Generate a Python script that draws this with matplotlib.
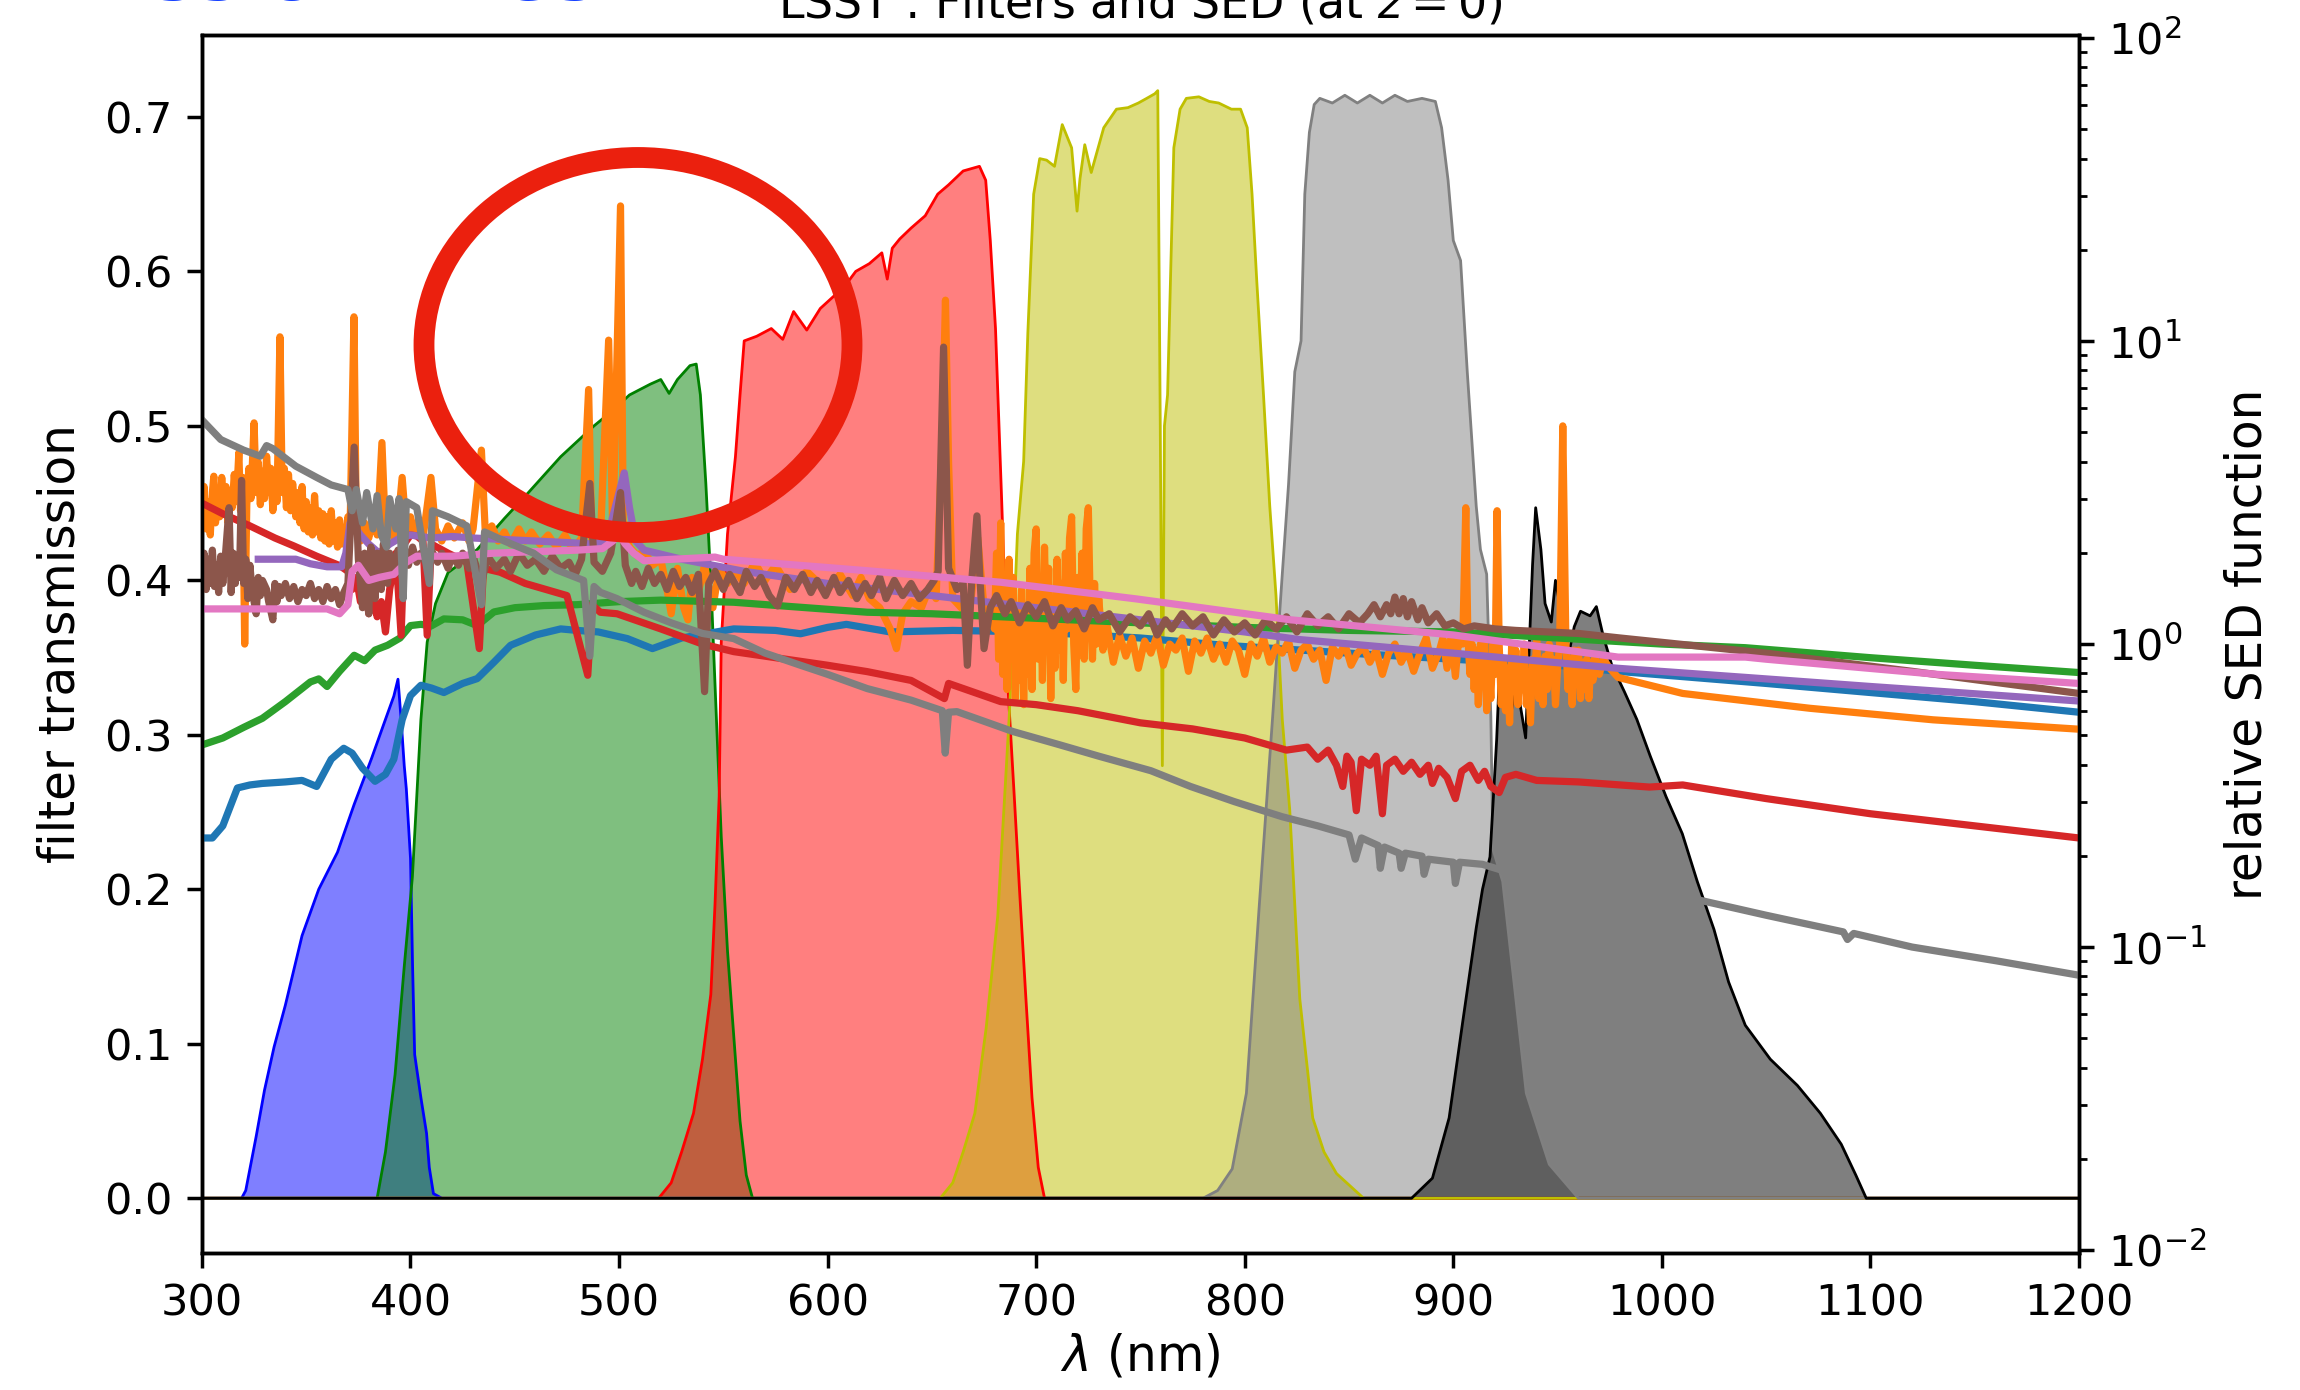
import numpy as np
import matplotlib
matplotlib.use('Agg')
import matplotlib.pyplot as plt
from matplotlib.patches import Ellipse

# LSST filter transmission curves (wavelength nm, transmission)
u_wl = [300, 319, 321, 326, 330, 334.6, 340, 348, 356, 365, 373, 381.4, 388, 392, 394, 395.5, 397, 398, 400, 401, 402, 405, 407.7, 409, 411, 415, 1200]
u_tr = [0, 0, 0.005, 0.04, 0.07, 0.098, 0.125, 0.17, 0.2, 0.224, 0.255, 0.285, 0.31, 0.325, 0.336, 0.31, 0.28, 0.265, 0.22, 0.15, 0.093, 0.065, 0.042, 0.02, 0.003, 0, 0]

g_wl = [300, 384, 388, 392.6, 397, 400.9, 403, 405, 408, 412, 418, 425, 432, 445, 456, 472, 488, 497, 505, 515, 520, 524, 528, 534, 537, 539, 541.6, 544, 546, 549, 552, 555, 558, 561, 564, 1200]
g_tr = [0, 0, 0.03, 0.08, 0.15, 0.208, 0.26, 0.31, 0.36, 0.385, 0.405, 0.412, 0.42, 0.44, 0.456, 0.48, 0.5, 0.51, 0.52, 0.527, 0.53, 0.521, 0.53, 0.539, 0.54, 0.52, 0.463, 0.4, 0.333, 0.234, 0.16, 0.105, 0.05, 0.015, 0, 0]

r_wl = [300, 519, 525, 530, 535.7, 540, 544, 546, 548, 549, 552, 555.8, 558, 560, 566, 573, 578.5, 583.7, 590, 596.5, 603, 608, 613.5, 620, 626, 628.6, 631, 634.6, 640, 646.8, 652.8, 658, 665, 672.8, 675.8, 678, 680.5, 683.5, 686.5, 689.5, 692, 695, 698, 701, 704, 1200]
r_tr = [0, 0, 0.01, 0.03, 0.055, 0.09, 0.132, 0.19, 0.26, 0.36, 0.43, 0.48, 0.52, 0.555, 0.558, 0.563, 0.556, 0.574, 0.562, 0.576, 0.584, 0.59, 0.6, 0.605, 0.612, 0.595, 0.615, 0.621, 0.628, 0.636, 0.65, 0.656, 0.665, 0.668, 0.659, 0.62, 0.563, 0.45, 0.33, 0.26, 0.2, 0.131, 0.065, 0.02, 0, 0]

i_wl = [300, 654, 660, 665, 670.6, 676, 681.6, 687, 689.7, 691, 694, 696, 698.8, 701.7, 705, 708.8, 712.5, 717, 719.6, 721, 723.3, 726.4, 732.4, 738.5, 744, 749, 753, 756.9, 758.3, 759.5, 760.5, 761.5, 763, 766, 769, 772, 778, 783, 787.5, 793.6, 798, 801.2, 803.5, 805.8, 809, 812, 815, 818, 821.6, 826.4, 832.6, 838, 844, 857, 1200]
i_tr = [0, 0, 0.01, 0.03, 0.055, 0.11, 0.183, 0.31, 0.387, 0.43, 0.477, 0.56, 0.65, 0.673, 0.672, 0.668, 0.695, 0.68, 0.639, 0.66, 0.682, 0.664, 0.693, 0.705, 0.706, 0.709, 0.712, 0.715, 0.717, 0.5, 0.28, 0.5, 0.52, 0.68, 0.705, 0.712, 0.713, 0.71, 0.709, 0.705, 0.705, 0.693, 0.65, 0.593, 0.52, 0.448, 0.39, 0.31, 0.251, 0.129, 0.052, 0.03, 0.016, 0, 0]

z_wl = [300, 780, 787, 794, 800.8, 807, 813.4, 818, 821, 822.5, 824, 827, 828.8, 831, 833.3, 836, 842, 848, 854, 860, 866, 872, 878, 885, 891.4, 894.4, 897.5, 900, 903.5, 906.7, 911, 913, 916, 918, 919, 923.7, 930, 935, 946, 960, 1200]
z_tr = [0, 0, 0.005, 0.019, 0.068, 0.19, 0.312, 0.404, 0.462, 0.498, 0.535, 0.555, 0.65, 0.69, 0.708, 0.712, 0.709, 0.714, 0.709, 0.714, 0.709, 0.714, 0.71, 0.712, 0.71, 0.693, 0.659, 0.62, 0.607, 0.535, 0.448, 0.42, 0.404, 0.312, 0.226, 0.205, 0.129, 0.068, 0.022, 0, 0]

y_wl = [300, 880, 890, 898, 904.5, 911, 914, 917.6, 920.8, 922.2, 924, 927, 930, 932, 934.7, 936.5, 938, 939.5, 942, 944, 947, 949, 951.6, 954.7, 958, 961, 965.6, 968.6, 971.7, 976, 982, 988, 994.5, 1002, 1009.8, 1017, 1025, 1032, 1040, 1052, 1065, 1076, 1086, 1093, 1098, 1200]
y_tr = [0, 0, 0.013, 0.052, 0.114, 0.175, 0.2, 0.221, 0.297, 0.343, 0.335, 0.31, 0.33, 0.32, 0.298, 0.36, 0.41, 0.447, 0.42, 0.385, 0.373, 0.4, 0.38, 0.348, 0.37, 0.38, 0.377, 0.383, 0.365, 0.345, 0.328, 0.31, 0.286, 0.26, 0.236, 0.205, 0.174, 0.14, 0.112, 0.09, 0.073, 0.055, 0.035, 0.015, 0, 0]

filter_colors = ['b', 'g', 'r', 'y', 'grey', 'k']

# SEDs, log10 of relative flux
sed0_wl = [300, 305, 310, 317, 323, 329, 340, 348, 355, 362, 368, 372, 377, 383, 388, 392, 396, 400, 405, 410, 416, 425, 432, 440, 448, 460, 472, 480, 490, 504, 516, 530, 555, 575, 587, 600, 609, 630, 660, 700, 750, 790, 850, 900, 950, 979, 1050, 1100, 1150, 1200]
sed0_log = [-0.64, -0.64, -0.6, -0.475, -0.465, -0.46, -0.455, -0.45, -0.47, -0.38, -0.344, -0.36, -0.41, -0.453, -0.43, -0.38, -0.25, -0.17, -0.136, -0.145, -0.16, -0.13, -0.114, -0.06, -0.004, 0.03, 0.05, 0.045, 0.04, 0.018, -0.015, 0.02, 0.05, 0.045, 0.034, 0.055, 0.065, 0.04, 0.045, 0.04, 0.02, -0.004, -0.03, -0.05, -0.07, -0.09, -0.13, -0.16, -0.19, -0.225]

# emission-line galaxy (orange): (wavelength, log flux) pairs
sed1_pts = [
    (300, 0.4), (301, 0.52), (302, 0.38), (303, 0.47), (304, 0.36), (305, 0.5), (305.7, 0.554), (306.5, 0.4),
    (307.5, 0.5), (308.5, 0.42), (309.5, 0.55), (310.5, 0.44), (311.5, 0.52), (312.5, 0.4), (313.5, 0.5),
    (314.5, 0.45), (315.5, 0.56), (316.5, 0.47), (317.7, 0.632), (318.5, 0.44), (319.5, 0.55), (320.5, 0.0),
    (321.5, 0.46), (322.5, 0.58), (323.5, 0.48), (325, 0.73), (326, 0.5), (327, 0.6), (328, 0.46), (329, 0.57),
    (330, 0.48), (331, 0.62), (332, 0.5), (333, 0.58), (334, 0.44), (335, 0.55), (336, 0.47), (337.4, 1.014),
    (338.5, 0.5), (339.5, 0.58), (340.5, 0.45), (341.5, 0.56), (342.5, 0.44), (343.5, 0.53), (345, 0.42),
    (346, 0.5), (347, 0.4), (348, 0.52), (349, 0.38), (350, 0.47), (351, 0.37), (352, 0.45), (353, 0.36),
    (354, 0.49), (355, 0.37), (356, 0.44), (357, 0.35), (358, 0.43), (359, 0.34), (360, 0.42), (361, 0.33),
    (362, 0.44), (363, 0.34), (364, 0.4), (365, 0.32), (366, 0.41), (367, 0.33), (368, 0.38), (369, 0.35),
    (370, 0.42), (371, 0.37), (372.9, 1.08), (374, 0.4), (376, 0.34), (378, 0.4), (380, 0.35), (382, 0.42),
    (384, 0.36), (386.3, 0.665), (388, 0.37), (390, 0.41), (392, 0.35), (394, 0.4), (396, 0.55), (398, 0.37),
    (400, 0.42), (402, 0.36), (404, 0.41), (406, 0.35), (409.8, 0.55), (412, 0.38), (415, 0.34), (418, 0.39),
    (421, 0.35), (425, 0.4), (428, 0.34), (430, 0.38), (434, 0.64), (436, 0.35), (439, 0.39), (442, 0.34),
    (445, 0.37), (448, 0.33), (452, 0.38), (455, 0.34), (458, 0.37), (462, 0.33), (466, 0.36), (470, 0.32),
    (474, 0.36), (478, 0.31), (482, 0.35), (485.4, 0.84), (487, 0.33), (491, 0.34), (495, 1.003), (497, 0.36),
    (500.7, 1.446), (502, 0.4), (505, 0.32), (509, 0.29), (512, 0.31), (516, 0.26), (520, 0.28), (523, 0.18),
    (525, 0.1), (528, 0.25), (531, 0.12), (533, 0.08), (535, 0.22), (537, 0.14), (541, 0.26), (545, 0.12),
    (548, 0.25), (552, 0.2), (556, 0.24), (560, 0.2), (565, 0.27), (570, 0.21), (575, 0.26), (582, 0.18),
    (590, 0.24), (596, 0.2), (600, 0.18), (606, 0.23), (612, 0.16), (616, 0.22), (620, 0.15), (625, 0.12),
    (630, 0.05), (633, -0.015), (636, 0.1), (640, 0.14), (645, 0.12), (649, 0.19), (652, 0.15), (655, 0.7),
    (656.5, 1.135), (658, 0.6), (660, 0.15), (664, 0.12), (668, 0.1), (672, 0.35), (675, 0.12), (678, 0.08),
    (680, 0.05), (681, 0.3), (682, -0.05), (683, 0.4), (684, -0.1), (685, 0.2), (686, -0.15), (687, 0.28),
    (688, -0.05), (689, 0.22), (690, -0.18), (691, 0.1), (692, -0.12), (693, 0.18), (694, -0.2), (695, 0.12),
    (696, -0.1), (697, 0.25), (698, -0.15), (699, 0.3), (700, 0.38), (701, -0.05), (702, 0.2), (703, -0.12),
    (704, 0.32), (705, 0.0), (706, 0.25), (707, -0.18), (708, 0.15), (709, -0.08), (710, 0.28), (711, -0.02),
    (712, 0.2), (713, -0.12), (714, 0.3), (715, 0.05), (716, 0.35), (717, 0.42), (718, 0.0), (719, -0.15),
    (720, 0.22), (721, 0.05), (722, 0.3), (723, -0.05), (724, 0.38), (725, 0.45), (726, 0.1), (727, -0.05),
    (728, 0.2), (729, 0.0), (730, 0.15), (732, -0.02), (734, 0.06), (737, -0.06), (740, 0.03), (743, -0.04),
    (746, 0.02), (749, -0.08), (752, 0.01), (755, -0.03), (758, 0.03), (761, -0.07), (764, 0.0), (767, -0.02),
    (770, 0.02), (773, -0.09), (776, 0.01), (779, -0.03), (782, 0.02), (785, -0.05), (788, 0.0), (791, -0.06),
    (794, 0.01), (797, -0.02), (800, -0.1), (803, 0.0), (806, -0.04), (809, 0.02), (812, -0.06), (815, -0.01),
    (818, -0.03), (821, 0.01), (824, -0.08), (827, -0.02), (830, 0.0), (833, -0.05), (836, -0.02), (839, -0.12),
    (842, -0.01), (845, -0.04), (848, 0.0), (851, -0.07), (854, -0.03), (857, -0.01), (860, -0.06), (863, -0.02),
    (866, -0.1), (869, -0.03), (872, 0.0), (875, -0.06), (878, -0.02), (881, -0.09), (884, -0.03), (887, 0.02),
    (890, -0.08), (893, -0.03), (895, 0.02), (897, -0.08), (899, 0.03), (901, -0.107), (903, 0.05), (904.5, 0.0),
    (906, 0.45), (907, 0.02), (908, -0.1), (909, 0.0), (910, -0.15), (911, -0.02), (912, -0.2), (913, 0.0),
    (914, -0.12), (915, 0.02), (916, -0.22), (917, -0.05), (918, -0.18), (919, 0.0), (920, -0.1), (921, 0.44),
    (922, 0.0), (923, -0.2), (924, -0.05), (925, -0.22), (926, -0.08), (927, -0.26), (928, 0.0), (929, -0.15),
    (930, -0.02), (931, -0.2), (932, -0.08), (933, -0.15), (934, 0.0), (935, -0.2), (936, -0.1), (937, -0.26),
    (938, -0.05), (939, -0.12), (940, 0.02), (941, -0.18), (942, -0.06), (943, -0.2), (944, -0.04), (945, -0.15),
    (946, 0.0), (947, -0.12), (948, -0.05), (949, -0.2), (950, -0.08), (951, 0.0), (952.5, 0.72), (954, 0.0),
    (955, -0.15), (956, -0.05), (957, -0.2), (958, -0.02), (959, -0.12), (960, -0.02), (961, -0.18), (962, -0.06),
    (963, -0.15), (964, -0.05), (965, -0.18), (966, -0.06), (967, -0.12), (968, -0.04), (970, -0.1), (972, -0.05),
    (975, -0.08), (979, -0.11), (1010, -0.163), (1071, -0.212), (1130, -0.25), (1200, -0.281),
]

sed2_wl = [300, 310, 320, 329, 340, 352, 356, 360, 366, 373, 378, 383, 389, 395, 400, 405, 410, 416, 425, 432, 440, 450, 464, 480, 500, 520, 555, 580, 619, 650, 700, 750, 800, 850, 900, 950, 1000, 1040, 1100, 1150, 1200]
sed2_log = [-0.333, -0.31, -0.275, -0.245, -0.19, -0.125, -0.115, -0.14, -0.09, -0.037, -0.055, -0.02, -0.004, 0.02, 0.061, 0.065, 0.06, 0.083, 0.08, 0.061, 0.106, 0.12, 0.127, 0.13, 0.14, 0.145, 0.138, 0.125, 0.105, 0.1, 0.085, 0.07, 0.055, 0.045, 0.04, 0.02, 0.0, -0.012, -0.045, -0.07, -0.094]

sed3_wl = [300, 310, 323, 335, 344, 355, 366, 370, 372, 374, 376, 378, 380, 382, 384, 386, 388, 390, 393, 395.5, 397, 400, 403, 406, 408, 410, 418, 427, 433, 435, 443, 455, 465, 475, 485, 487, 491, 499, 520, 540, 555, 580, 600, 619, 640, 656, 658, 683, 700, 720, 750, 775, 800, 820, 830, 835, 840, 844, 847, 849, 851, 853.5, 856, 860, 863, 866, 868, 872, 876, 880, 884, 888, 890, 893, 897, 901, 904, 908, 912, 915, 918, 922, 925, 930, 940, 960, 980, 994, 1010, 1050, 1100, 1150, 1200]
sed3_log = [0.465, 0.43, 0.39, 0.35, 0.324, 0.29, 0.259, 0.24, 0.18, 0.22, 0.14, 0.2, 0.1, 0.16, 0.09, 0.14, 0.04, 0.18, 0.3, 0.029, 0.33, 0.36, 0.357, 0.34, 0.029, 0.33, 0.3, 0.27, -0.015, 0.25, 0.237, 0.2, 0.18, 0.16, -0.103, 0.13, 0.105, 0.1, 0.05, 0.0, -0.025, -0.05, -0.07, -0.091, -0.12, -0.18, -0.13, -0.19, -0.2, -0.22, -0.26, -0.28, -0.31, -0.35, -0.34, -0.38, -0.35, -0.4, -0.47, -0.37, -0.39, -0.55, -0.38, -0.4, -0.37, -0.56, -0.4, -0.38, -0.42, -0.39, -0.43, -0.4, -0.46, -0.41, -0.44, -0.51, -0.42, -0.4, -0.45, -0.42, -0.47, -0.49, -0.44, -0.43, -0.45, -0.455, -0.465, -0.472, -0.465, -0.51, -0.56, -0.6, -0.64]

sed4_wl = [327, 345, 352, 360, 367, 369, 371, 373, 376, 380, 385, 390, 395, 400, 410, 420, 430, 445, 460, 475, 488, 494, 497, 500, 502.5, 505, 508, 512, 530, 560, 600, 650, 700, 750, 800, 826, 900, 979, 1040, 1100, 1200]
sed4_log = [0.28, 0.28, 0.265, 0.255, 0.255, 0.3, 0.4, 0.39, 0.36, 0.33, 0.3, 0.33, 0.35, 0.36, 0.35, 0.355, 0.35, 0.345, 0.34, 0.335, 0.33, 0.345, 0.42, 0.5, 0.565, 0.45, 0.34, 0.31, 0.28, 0.24, 0.2, 0.16, 0.12, 0.08, 0.04, 0.015, -0.03, -0.08, -0.11, -0.14, -0.188]

# brown galaxy: (wavelength, log flux) pairs
sed5_pts = [
    (300, 0.22), (301, 0.3), (302, 0.18), (303, 0.28), (304, 0.2), (305, 0.31), (306, 0.19), (307, 0.26),
    (308, 0.17), (309, 0.29), (310, 0.2), (311, 0.27), (313, 0.45), (314, 0.17), (315, 0.3), (316, 0.2),
    (317, 0.28), (318, 0.22), (319, 0.54), (320, 0.2), (321, 0.28), (322, 0.15), (323, 0.26), (324, 0.18),
    (326, 0.1), (327, 0.22), (328, 0.16), (329, 0.21), (331, 0.18), (332, 0.14), (334, 0.08), (335, 0.2),
    (336, 0.14), (337, 0.19), (338, 0.16), (340, 0.2), (342, 0.15), (344, 0.19), (346, 0.14), (348, 0.18),
    (350, 0.16), (352, 0.2), (354, 0.15), (356, 0.18), (358, 0.14), (360, 0.19), (362, 0.15), (364, 0.18),
    (366, 0.13), (368, 0.17), (370, 0.2), (373, 0.65), (375, 0.28), (377, 0.12), (378, 0.3), (380, 0.1),
    (381, 0.32), (383, 0.15), (384, 0.3), (386, 0.18), (387, 0.33), (389, 0.2), (390, 0.3), (392, 0.24),
    (394, 0.31), (396, 0.22), (397, 0.32), (399, 0.26), (401, 0.32), (403, 0.27), (405, 0.3), (408, 0.26),
    (410, 0.31), (413, 0.27), (415, 0.3), (418, 0.25), (420, 0.29), (423, 0.26), (425, 0.3), (428, 0.25),
    (430, 0.29), (434, 0.2), (437, 0.29), (441, 0.25), (445, 0.28), (448, 0.24), (452, 0.3), (456, 0.26),
    (460, 0.28), (464, 0.24), (468, 0.29), (472, 0.25), (476, 0.27), (479, 0.23), (482, 0.28), (486, 0.53),
    (488, 0.27), (492, 0.24), (496, 0.3), (500.7, 0.5), (503, 0.26), (506, 0.2), (508, 0.24), (511, 0.19),
    (514, 0.25), (517, 0.2), (520, 0.23), (523, 0.18), (526, 0.24), (529, 0.19), (532, 0.22), (535, 0.17),
    (538, 0.23), (541, -0.157), (543, 0.2), (546, 0.24), (550, 0.18), (553, 0.23), (558, 0.17), (561, 0.24),
    (565, 0.19), (568, 0.22), (572, 0.16), (576, 0.126), (580, 0.22), (584, 0.18), (588, 0.23), (592, 0.17),
    (595, 0.21), (599, 0.16), (603, 0.22), (606, 0.17), (610, 0.21), (614, 0.15), (618, 0.2), (621, 0.16),
    (625, 0.22), (628, 0.15), (632, 0.21), (636, 0.16), (640, 0.2), (644, 0.15), (648, 0.18), (651, 0.21),
    (653, 0.24), (655.6, 0.98), (658, 0.25), (662, 0.18), (665, 0.2), (667, -0.07), (669, 0.2), (671.6, 0.423),
    (673, 0.22), (675, -0.015), (678, 0.12), (681, 0.16), (685, 0.1), (688, 0.14), (692, 0.07), (696, 0.13),
    (700, 0.09), (704, 0.14), (708, 0.06), (712, 0.12), (715, 0.08), (719, 0.11), (723, 0.05), (727, 0.12),
    (730, 0.08), (735, 0.1), (740, 0.04), (745, 0.09), (750, 0.06), (754, 0.1), (758, 0.03), (762, 0.08),
    (765, 0.05), (770, 0.1), (775, 0.06), (780, 0.09), (785, 0.03), (790, 0.08), (795, 0.04), (800, 0.07),
    (805, 0.03), (810, 0.08), (815, 0.05), (820, 0.09), (825, 0.04), (830, 0.1), (835, 0.06), (840, 0.09),
    (845, 0.05), (850, 0.1), (855, 0.07), (859, 0.1), (862, 0.13), (865, 0.09), (868, 0.13), (870, 0.1),
    (872, 0.155), (874, 0.1), (876, 0.15), (878, 0.09), (880, 0.14), (883, 0.08), (885, 0.12), (888, 0.07),
    (892, 0.1), (896, 0.06), (900, 0.07), (905, 0.05), (910, 0.06), (920, 0.05), (930, 0.045), (945, 0.04),
    (960, 0.035), (980, 0.02), (1050, -0.03), (1120, -0.09), (1200, -0.163),
]

sed6_wl = [300, 360, 366, 370, 372, 375, 380, 385, 392, 398, 403, 420, 440, 460, 480, 492, 497, 500, 503, 507, 512, 546, 550, 619, 683, 748, 822, 900, 979, 1040, 1050, 1132, 1200]
sed6_log = [0.116, 0.116, 0.1, 0.13, 0.24, 0.26, 0.21, 0.22, 0.23, 0.27, 0.29, 0.29, 0.3, 0.305, 0.31, 0.315, 0.34, 0.36, 0.33, 0.3, 0.275, 0.287, 0.28, 0.242, 0.204, 0.149, 0.08, 0.03, -0.043, -0.043, -0.05, -0.1, -0.13]

sed7_wl = [300, 309, 320, 328, 331, 334, 345, 355, 362, 370, 372, 374, 377, 379, 382, 384, 386, 388.5, 390, 393, 394.5, 396.5, 398, 403, 409, 410.5, 418, 427, 434, 435.5, 445, 459, 470, 483, 486, 488, 491, 499, 512, 525, 540, 555, 570, 587, 600, 619, 640, 655, 656.4, 658, 662, 689, 710, 730, 755, 774, 795, 818, 835, 850, 853, 856, 864, 865, 867, 874, 875, 877, 885, 886, 888, 900, 901, 903, 914, 925, 940, 960, 980, 1000, 1016, 1050, 1087, 1089, 1092, 1120, 1160, 1200]
sed7_log = [0.74, 0.675, 0.64, 0.62, 0.655, 0.645, 0.587, 0.55, 0.525, 0.51, 0.44, 0.51, 0.4, 0.5, 0.38, 0.49, 0.36, 0.32, 0.48, 0.38, 0.48, 0.15, 0.47, 0.45, 0.2, 0.44, 0.42, 0.39, 0.13, 0.37, 0.34, 0.3, 0.245, 0.21, -0.04, 0.19, 0.171, 0.15, 0.105, 0.07, 0.035, 0.018, -0.03, -0.07, -0.1, -0.147, -0.185, -0.22, -0.36, -0.225, -0.223, -0.289, -0.33, -0.37, -0.418, -0.47, -0.52, -0.57, -0.6, -0.63, -0.71, -0.64, -0.665, -0.74, -0.67, -0.69, -0.74, -0.69, -0.7, -0.76, -0.71, -0.72, -0.79, -0.72, -0.727, -0.75, -0.77, -0.79, -0.81, -0.825, -0.842, -0.895, -0.95, -0.975, -0.955, -1.0, -1.045, -1.093]

plt.rcParams.update({
    'font.size': 31,
    'axes.labelsize': 35,
    'axes.linewidth': 2.5,
    'xtick.major.size': 11, 'xtick.major.width': 2.5, 'xtick.major.pad': 10,
    'ytick.major.size': 11, 'ytick.major.width': 2.5, 'ytick.major.pad': 10,
    'ytick.minor.size': 6, 'ytick.minor.width': 2,
})

fig = plt.figure(figsize=(23, 13.9), dpi=100)
ax1 = fig.add_axes([0.0878, 0.0985, 0.8161, 0.8763])

filters = [(u_wl, u_tr), (g_wl, g_tr), (r_wl, r_tr), (i_wl, i_tr), (z_wl, z_tr), (y_wl, y_tr)]
for (wl, tr), c in zip(filters, filter_colors):
    ax1.fill_between(wl, tr, color=c, alpha=0.5, lw=0)
    ax1.plot(wl, tr, color=c, lw=2.0)

ax1.set_xlim(300, 1200)
ax1.set_ylim(-0.0355, 0.753)
ax1.set_xticks(range(300, 1201, 100))
ax1.set_xlabel(r'$\lambda$ (nm)', labelpad=6)
ax1.set_ylabel('filter transmission', labelpad=14)

sed1_wl, sed1_log = zip(*sed1_pts)
sed5_wl, sed5_log = zip(*sed5_pts)

ax2 = ax1.twinx()
seds = [(sed0_wl, sed0_log), (sed1_wl, sed1_log), (sed2_wl, sed2_log), (sed3_wl, sed3_log),
        (sed4_wl, sed4_log), (sed5_wl, sed5_log), (sed6_wl, sed6_log), (sed7_wl, sed7_log)]
for k, (wl, lg) in enumerate(seds):
    ax2.plot(wl, np.power(10.0, lg), color='C%d' % k, lw=5.2)
ax2.set_yscale('log')
ax2.set_ylim(10**-2.01, 10**2.01)
ax2.set_xlim(300, 1200)
ax2.set_ylabel('relative SED function', labelpad=12)

fig.text(0.4957, 1 - 18 / 1390, r'LSST : Filters and SED (at $z = 0$)', ha='center', va='baseline', fontsize=33)
# slide heading above the chart, almost entirely cut off at the top edge
fig.text(-4 / 2300, 1.0, 'Emission lines', color='#1540ff', fontsize=54, fontweight='bold',
         ha='left', va='baseline')

# red circle highlighting the emission lines
fig.add_artist(Ellipse((638 / 2300, 1 - 345 / 1390), 428 / 2300, 375 / 1390,
                       transform=fig.transFigure, fill=False, edgecolor='#eb200e', lw=15))

fig.savefig('out.png', dpi=100)
